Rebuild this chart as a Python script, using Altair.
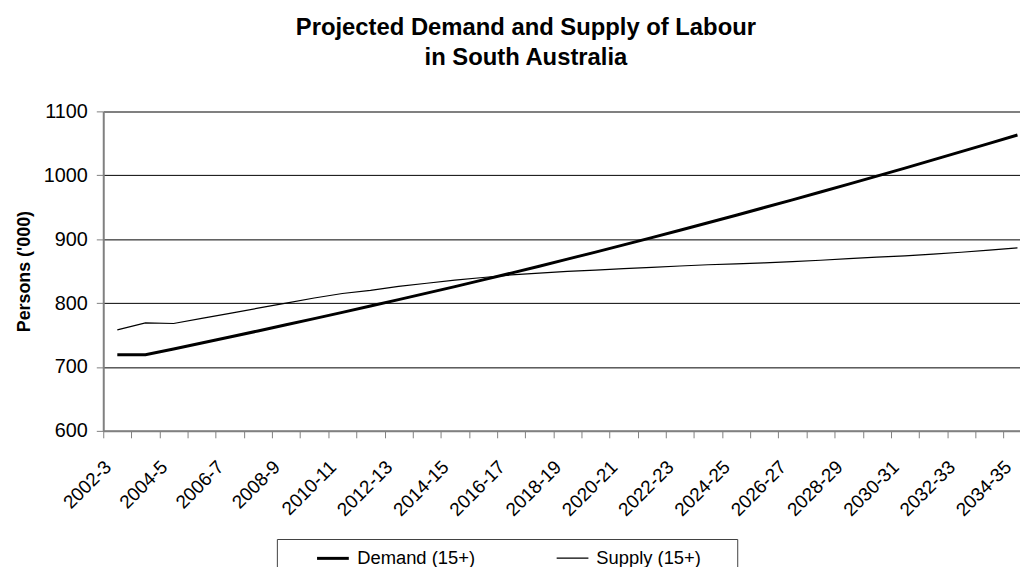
import altair as alt
import pandas as pd

periods = ["2002-3", "2003-4", "2004-5", "2005-6", "2006-7", "2007-8", "2008-9",
           "2009-10", "2010-11", "2011-12", "2012-13", "2013-14", "2014-15",
           "2015-16", "2016-17", "2017-18", "2018-19", "2019-20", "2020-21",
           "2021-22", "2022-23", "2023-24", "2024-25", "2025-26", "2026-27",
           "2027-28", "2028-29", "2029-30", "2030-31", "2031-32", "2032-33",
           "2033-34", "2034-35"]

demand = [719, 719, 728.2, 737.5, 746.9, 756.4, 766.0, 775.7, 785.5, 795.4,
          805.4, 815.5, 825.8, 836.3, 846.9, 857.7, 868.7, 879.8, 891.1, 902.5,
          914.0, 925.7, 937.5, 949.5, 961.6, 973.8, 986.2, 998.7, 1011.3, 1024.1,
          1037.0, 1050.0, 1063.1]

supply = [758, 769, 768, 776, 784, 792, 800, 808, 815, 820, 826, 831, 836, 840,
          844, 847, 849.5, 851.5, 854, 856, 858, 860, 861.5, 863, 865, 867, 869.5,
          872, 874, 876.5, 879.5, 883, 886.5]

series_names = ["Demand (15+)", "Supply (15+)"]
y_ticks = [600, 700, 800, 900, 1000, 1100]

rows = []
for i, p in enumerate(periods):
    rows.append({"idx": i, "period": p, "series": series_names[0], "value": demand[i]})
    rows.append({"idx": i, "period": p, "series": series_names[1], "value": supply[i]})
df = pd.DataFrame(rows)

FONT = "Liberation Sans"
GRAY = "#808080"

tick_vals = [i - 0.5 for i in range(len(periods))]
label_arr = "[" + ",".join("'" + p + "'" for p in periods) + "]"
label_expr = "(datum.value + 0.5) % 2 == 0 ? " + label_arr + "[datum.value + 0.5] : ''"

x_enc = alt.X(
    "idx:Q",
    scale=alt.Scale(domain=[-0.5, 32.09], nice=False, zero=False),
    axis=alt.Axis(
        values=tick_vals, labelExpr=label_expr, labelAngle=-45,
        labelAlign="right", labelBaseline="middle", labelOffset=4.5,
        labelPadding=26, labelFlush=False, labelOverlap=False,
        tickSize=7, tickColor=GRAY, tickWidth=1,
        domainColor=GRAY, domainWidth=2, grid=False, title=None,
        labelFont=FONT, labelFontSize=19, labelColor="black",
    ),
)

y_enc = alt.Y(
    "value:Q",
    scale=alt.Scale(domain=[600, 1100], nice=False, zero=False),
    axis=alt.Axis(
        values=y_ticks, format="d", title="Persons ('000)", titleFont=FONT,
        titleFontSize=18, titleFontWeight="bold", titleColor="black",
        titlePadding=10, labelFont=FONT, labelFontSize=20, labelColor="black",
        labelPadding=9, tickSize=7, tickColor=GRAY, domainColor=GRAY,
        domainWidth=2,
        gridColor={"condition": {"test": "datum.value == 1100", "value": GRAY}, "value": "black"},
        gridWidth={"condition": {"test": "datum.value == 1100", "value": 2}, "value": 1},
    ),
)

sw_enc = alt.StrokeWidth(
    "series:N",
    scale=alt.Scale(domain=series_names, range=[3, 1.2]),
    legend=alt.Legend(
        orient="none", legendX=175, legendY=431, direction="horizontal",
        title="\u00a0", titleOrient="right", titleOpacity=0,
        titleFontSize=18, titlePadding=37,
        symbolType="M-0.889,0H0.889", symbolSize=1296,
        symbolStrokeColor="black", symbolFillColor="transparent",
        symbolOffset=37, labelOffset=5,
        labelFont=FONT, labelFontSize=18.5, labelColor="black",
        columnPadding=42, padding=0, strokeColor="#404040", fillColor="white",
    ),
)

chart = (
    alt.Chart(df)
    .mark_line(color="black")
    .encode(x=x_enc, y=y_enc, strokeWidth=sw_enc, order="idx:Q")
    .properties(
        width=924, height=322,
        padding={"left": 96, "top": 102, "right": 0, "bottom": 135},
        autosize=alt.AutoSizeParams(type="none"),
        title=alt.TitleParams(
            text=["Projected Demand and Supply of Labour", "in South Australia"],
            font=FONT, fontSize=24, fontWeight="bold", color="black",
            anchor="middle", frame="group", dx=-36, offset=8,
            baseline="bottom", lineHeight=30,
        ),
    )
    .configure_view(stroke=None)
    .configure(background="white")
)

chart.save("out.html", embed_options={"renderer": "svg", "actions": False})
